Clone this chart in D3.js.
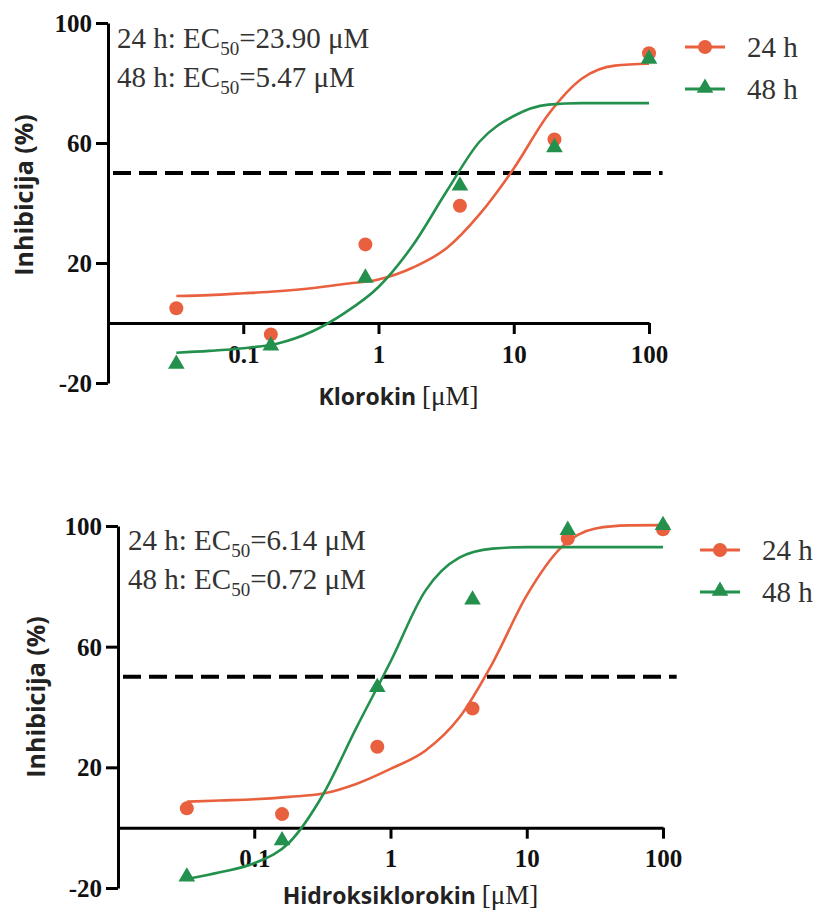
<!DOCTYPE html>
<html>
<head>
<meta charset="utf-8">
<script src="https://cdn.jsdelivr.net/npm/d3@7"></script>
<style>
    body { margin: 0; background: #fff; }
    .tick text { font-family: "Liberation Serif", "Times New Roman", serif; font-weight: bold; }
</style>
</head>
<body>
<script>
    // measured concentrations (uM)
    var conc = [0.032, 0.16, 0.8, 4, 20, 100];

    // Klorokin
    var kloro24 = [4.9, -3.8, 26.2, 39.1, 61.2, 89.9];
    var kloro48 = [-14, -7.9, 14.7, 45.4, 58.2, 87.7];

    // Hidroksiklorokin
    var hidro24 = [6.4, 4.5, 26.8, 39.5, 95.8, 98.9];
    var hidro48 = [-16.6, -4.6, 46.2, 75.2, 98.3, 99.9];

    // fitted curves at these concentrations
    var curveConc = [0.032, 0.056, 0.1, 0.18, 0.32, 0.56, 1, 1.8, 3.2, 5.6, 10, 18, 32, 56, 100];
    var kloroFit24 = [9.0, 9.3, 9.9, 10.6, 11.6, 13, 14.5, 18.5, 25, 36.3, 51.5, 69.5, 81.5, 85.8, 86.4];
    var kloroFit48 = [-9.9, -9.3, -8.4, -6.8, -2.9, 3.3, 12, 26, 44, 60.5, 69, 72.8, 73.3, 73.3, 73.3];
    var hidroFit24 = [8.6, 9.0, 9.4, 10.2, 11.3, 14.5, 19.5, 25.5, 36.5, 54.5, 77, 93, 99.2, 100.2, 100.3];
    var hidroFit48 = [-17, -14.8, -11.8, -5, 11, 33, 55, 78.5, 89.5, 92.5, 93, 93, 93, 93, 93];

    var xTicks = [0.1, 1, 10, 100];
    var yTicks = [-20, 20, 60, 100];
    var threshold = 50;

    var seriesNames = ["24 h", "48 h"];
    var colors = ["#e9603f", "#23904d"];

    var W = 819, H = 911;
    var svg = d3.select("body").append("svg")
        .attr("width", W)
        .attr("height", H);

    var panels = [
        {
            title: "Klorokin",
            ec: ["23.90", "5.47"],
            points: [kloro24, kloro48],
            fits: [kloroFit24, kloroFit48],
            xr: [108, 649], yr: [383, 23],
            noteX: 117, noteY: 48,
            legX: 685, legY: 47,
            yTitle: {x: 33, y: 195},
            xTitleY: 405
        },
        {
            title: "Hidroksiklorokin",
            ec: ["6.14", "0.72"],
            points: [hidro24, hidro48],
            fits: [hidroFit24, hidroFit48],
            xr: [118, 663], yr: [888, 526],
            noteX: 128, noteY: 550,
            legX: 700, legY: 550,
            yTitle: {x: 45, y: 697},
            xTitleY: 904
        }
    ];

    function drawMarker(g, type, cx, cy, color) {
        if (type === 0) {
            g.append("circle")
                .attr("cx", cx).attr("cy", cy).attr("r", 7)
                .style("fill", color);
        } else {
            g.append("path")
                .attr("d", d3.symbol().type(d3.symbolTriangle).size(120)())
                .attr("transform", "translate(" + cx + "," + (cy - 1) + ")")
                .style("fill", color);
        }
    }

    panels.forEach(function (p) {
        var g = svg.append("g");

        var x = d3.scaleLog().domain([0.01, 100]).range(p.xr),
            y = d3.scaleLinear().domain([-20, 100]).range(p.yr);

        // axes
        var yAxis = d3.axisLeft(y)
            .tickValues(yTicks)
            .tickSize(12)
            .tickSizeOuter(0)
            .tickPadding(4)
            .tickFormat(function (d) { return String(d); });
        var xAxis = d3.axisBottom(x)
            .tickValues(xTicks)
            .tickSize(11)
            .tickSizeOuter(0)
            .tickPadding(11)
            .tickFormat(function (d) { return String(d); });

        var ya = g.append("g")
            .attr("transform", "translate(" + p.xr[0] + ",0)")
            .call(yAxis);
        var xa = g.append("g")
            .attr("transform", "translate(0," + y(0) + ")")
            .call(xAxis);

        [ya, xa].forEach(function (a) {
            a.select(".domain").style("stroke", "#000").style("stroke-width", 3);
            a.selectAll(".tick line").style("stroke", "#000").style("stroke-width", 3);
            a.selectAll(".tick text").style("font-size", "25px").style("fill", "#111");
        });
        ya.selectAll(".tick text").attr("dy", "0.34em");

        // 50 % reference line
        g.append("line")
            .attr("x1", p.xr[0] + 5)
            .attr("x2", x(126))
            .attr("y1", y(threshold))
            .attr("y2", y(threshold))
            .style("stroke", "#000")
            .style("stroke-width", 4)
            .style("stroke-dasharray", "18,8");

        // fitted curves
        var line = d3.line()
            .x(function (d) { return x(d[0]); })
            .y(function (d) { return y(d[1]); })
            .curve(d3.curveMonotoneX);

        p.fits.forEach(function (fit, i) {
            g.append("path")
                .datum(d3.zip(curveConc, fit))
                .attr("d", line)
                .style("fill", "none")
                .style("stroke", colors[i])
                .style("stroke-width", 2.6);
        });

        // data points
        p.points.forEach(function (vals, i) {
            vals.forEach(function (v, j) {
                drawMarker(g, i, x(conc[j]), y(v), colors[i]);
            });
        });

        // EC50 notes
        p.ec.forEach(function (ec, i) {
            var t = g.append("text")
                .attr("x", p.noteX)
                .attr("y", p.noteY + i * 39)
                .style("font-family", "'Liberation Serif', 'Times New Roman', serif")
                .style("font-size", "29px")
                .style("fill", "#333");
            t.append("tspan").text(seriesNames[i] + ": EC");
            t.append("tspan")
                .attr("dy", 7)
                .style("font-size", "19px")
                .text("50");
            t.append("tspan")
                .attr("dy", -7)
                .text("=" + ec + " \u03bcM");
        });

        // legend
        seriesNames.forEach(function (name, i) {
            var ly = p.legY + i * 42;
            g.append("line")
                .attr("x1", p.legX).attr("x2", p.legX + 40)
                .attr("y1", ly).attr("y2", ly)
                .style("stroke", colors[i])
                .style("stroke-width", 3);
            drawMarker(g, i, p.legX + 20, ly, colors[i]);
            g.append("text")
                .attr("x", p.legX + 62)
                .attr("y", ly + 10)
                .style("font-family", "'Liberation Serif', 'Times New Roman', serif")
                .style("font-size", "29px")
                .style("fill", "#333")
                .text(name);
        });

        // axis titles
        g.append("text")
            .attr("transform", "translate(" + p.yTitle.x + "," + p.yTitle.y + ") rotate(-90)")
            .attr("text-anchor", "middle")
            .style("font-family", "'Open Sans', sans-serif")
            .style("font-weight", "bold")
            .style("font-size", "25px")
            .style("fill", "#222")
            .text("Inhibicija (%)");

        var xt = g.append("text")
            .attr("x", (p.xr[0] + p.xr[1]) / 2 + 20)
            .attr("y", p.xTitleY)
            .attr("text-anchor", "middle")
            .style("fill", "#222");
        xt.append("tspan")
            .style("font-family", "'Open Sans', sans-serif")
            .style("font-weight", "bold")
            .style("font-size", "23px")
            .text(p.title + " ");
        xt.append("tspan")
            .style("font-family", "'Liberation Serif', serif")
            .style("font-size", "27px")
            .text("[\u03bcM]");
    });
</script>
</body>
</html>
